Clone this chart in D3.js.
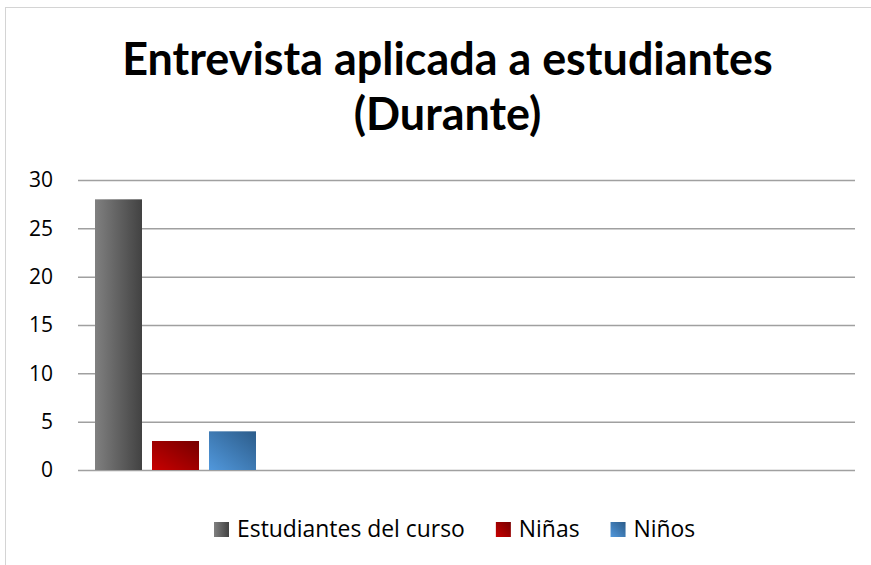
<!DOCTYPE html>
<html>
<head>
<meta charset="utf-8">
<script src="https://cdn.jsdelivr.net/npm/d3@7"></script>
<style>
  body { margin: 0; background: #fff; }
  svg { display: block; font-family: Lato, "Open Sans", sans-serif; }
</style>
</head>
<body>
<div id="chart"></div>
<script>
// data
const seriesNames = ["Estudiantes del curso", "Niñas", "Niños"]
const seriesValues = [28, 3, 4]
const yTicks = [0, 5, 10, 15, 20, 25, 30]
const titleLines = ["Entrevista aplicada a estudiantes", "(Durante)"]

const W = 871, H = 565
const dims = {
    gridLeft: 78,
    left: 85,
    right: 855,
    top: 180,
    bottom: 470
}

const svg = d3.select("#chart").append("svg")
    .attr("width", W)
    .attr("height", H)

const defs = svg.append("defs")

// gradients for each series
const grads = [
    { id: "gGray", x1: 0, y1: 0, x2: 1, y2: 0, stops: ["#808080", "#424242"] },
    { id: "gRed", x1: 0, y1: 1, x2: 1, y2: 0, stops: ["#c80000", "#760000"] },
    { id: "gBlue", x1: 0, y1: 1, x2: 1, y2: 0, stops: ["#5198dc", "#2c5c8a"] }
]
grads.forEach(g => {
    const lg = defs.append("linearGradient").attr("id", g.id)
        .attr("x1", g.x1).attr("y1", g.y1).attr("x2", g.x2).attr("y2", g.y2)
    lg.append("stop").attr("offset", "0%").attr("stop-color", g.stops[0])
    lg.append("stop").attr("offset", "100%").attr("stop-color", g.stops[1])
})

// outer frame
svg.append("rect")
    .attr("x", 5.5).attr("y", 7.5)
    .attr("width", 1000).attr("height", 1000)
    .attr("fill", "none")
    .attr("stroke", "#d4d4d4")
    .attr("stroke-width", 1)

//----- title
const title = svg.append("g")
const cx = 447.5
titleLines.forEach((t, i) => {
    title.append("text")
        .attr("x", cx)
        .attr("y", 75 + i * 55)
        .attr("text-anchor", "middle")
        .attr("font-weight", "bold")
        .attr("font-size", 40)
        .attr("fill", "#000")
        .text(t)
})
// fit first line width to the reference (~651px)
const t0 = title.select("text").node()
const fs = 40 * 651 / t0.getComputedTextLength()
title.selectAll("text").attr("font-size", fs)

//----- scales
const yScale = d3.scaleLinear()
    .domain([0, 30])
    .range([dims.bottom, dims.top])

const xScale = d3.scaleBand()
    .domain(seriesNames)
    .range([dims.left + 10, dims.left + 171])
    .paddingInner(0.1754)

const fills = ["url(#gGray)", "url(#gRed)", "url(#gBlue)"]

//----- axis + gridlines
const yAxis = d3.axisLeft(yScale)
    .tickValues(yTicks)
    .tickSize(dims.right - dims.gridLeft)
    .tickPadding(dims.gridLeft - 53)

const axisG = svg.append("g")
    .attr("transform", `translate(${dims.right},0)`)
    .call(yAxis)
axisG.select(".domain").remove()
axisG.selectAll(".tick line")
    .attr("stroke", "#a0a0a0")
    .attr("stroke-width", 1.5)
axisG.selectAll(".tick text")
    .attr("fill", "#000")
    .attr("font-size", 21)
    .attr("font-family", "'Open Sans', sans-serif")

//----- bars
svg.append("g").selectAll("rect")
    .data(seriesNames)
    .join("rect")
    .attr("x", d => xScale(d))
    .attr("width", xScale.bandwidth())
    .attr("y", (d, i) => yScale(seriesValues[i]))
    .attr("height", (d, i) => yScale(0) - yScale(seriesValues[i]))
    .attr("fill", (d, i) => fills[i])

//----- legend
const legend = svg.append("g")
const items = legend.selectAll("g")
    .data(seriesNames)
    .join("g")
items.append("rect")
    .attr("width", 15).attr("height", 15)
    .attr("y", -15)
    .attr("fill", (d, i) => fills[i])
const ltext = items.append("text")
    .attr("x", 23)
    .attr("font-size", 21)
    .attr("font-family", "'Open Sans', sans-serif")
    .attr("fill", "#000")
    .text(d => d)
// fit first legend label to ~228px
const lfs = 21 * 228 / ltext.node().getComputedTextLength()
ltext.attr("font-size", lfs)

let lx = 214
items.each(function() {
    const w = d3.select(this).select("text").node().getComputedTextLength()
    d3.select(this).attr("transform", `translate(${lx},537)`)
    lx += 23 + w + 31
})
</script>
</body>
</html>
